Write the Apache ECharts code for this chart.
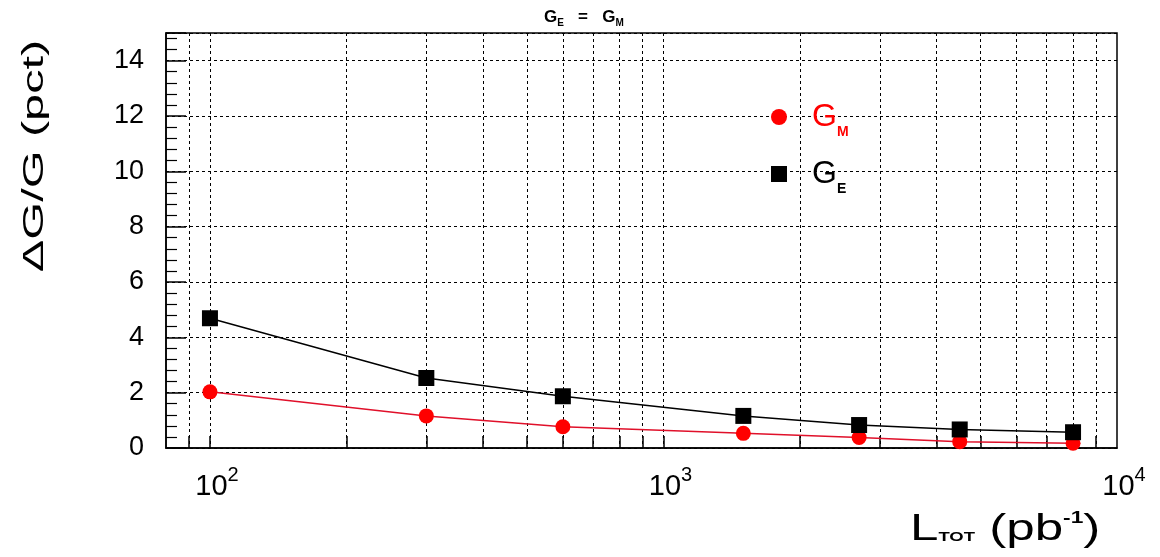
<!DOCTYPE html>
<html><head><meta charset="utf-8">
<script src="https://cdn.jsdelivr.net/npm/echarts@6/dist/echarts.min.js"></script>
<style>html,body{margin:0;padding:0;background:#fff}#c{width:1160px;height:557px}</style>
</head><body><div id="c"></div>
<script>
// ---- data ----
const luminosity = [100, 300, 600, 1500, 2700, 4500, 8000];   // L_TOT (pb^-1)
const errGE = [4.69, 2.53, 1.87, 1.16, 0.83, 0.67, 0.57];     // ΔG/G for G_E (pct)
const errGM = [2.03, 1.16, 0.77, 0.53, 0.38, 0.23, 0.17];     // ΔG/G for G_M (pct)
const xGridValues = [90, 100, 200, 300, 400, 500, 600, 700, 800, 900,
                     1000, 2000, 3000, 4000, 5000, 6000, 7000, 8000, 9000];
const xLabelValues = [100, 1000, 10000];
const xLabelExponent = {100: '2', 1000: '3', 10000: '4'};

const FONT = 'Liberation Sans';
const chart = echarts.init(document.getElementById('c'), null, {renderer: 'canvas'});
const dotted = {color: '#000', width: 1, type: [3, 3]};

const option = {
  animation: false,
  backgroundColor: '#fff',
  title: {
    text: '{a|G}{b|E}{a|   =   G}{b|M}',
    left: 539, top: 1,
    textStyle: {
      rich: {
        a: {fontSize: 17, fontWeight: 'bold', fontFamily: FONT, color: '#000', lineHeight: 22},
        b: {fontSize: 10, fontWeight: 'bold', fontFamily: FONT, color: '#000', lineHeight: 12, verticalAlign: 'bottom'}
      }
    }
  },
  grid: {left: 166, right: 43, top: 33, bottom: 109, show: true,
         borderColor: '#000', borderWidth: 1.5, backgroundColor: 'transparent'},
  xAxis: {
    type: 'log', logBase: 10, min: 80, max: 10000,
    axisLine: {show: true, lineStyle: {color: '#000', width: 1.5}},
    axisTick: {show: true, inside: true, length: 12, customValues: xGridValues,
               lineStyle: {color: '#000', width: 1.5}},
    minorTick: {show: false},
    axisLabel: {
      customValues: xLabelValues,
      margin: 17,
      formatter: v => '{b|10}{s|' + xLabelExponent[Math.round(v)] + '}',
      rich: {
        b: {fontSize: 29, fontFamily: FONT, color: '#000', lineHeight: 44, padding: [0, 0, 0, 14]},
        s: {fontSize: 20, fontFamily: FONT, color: '#000', lineHeight: 20, verticalAlign: 'top'}
      }
    },
    splitLine: {show: true, lineStyle: dotted}
  },
  yAxis: {
    type: 'value', min: 0, max: 15, interval: 2,
    axisLine: {show: true, lineStyle: {color: '#000', width: 1.5}},
    axisTick: {show: true, inside: true, length: 20, lineStyle: {color: '#000', width: 1.5}},
    minorTick: {show: true, splitNumber: 5, length: 11, lineStyle: {color: '#000', width: 1.2}},
    axisLabel: {fontSize: 27, fontFamily: FONT, color: '#000', margin: 22, showMaxLabel: false},
    splitLine: {show: true, lineStyle: dotted}
  },
  legend: {
    orient: 'vertical', left: 771, top: 101, padding: 0,
    itemWidth: 16, itemHeight: 16, itemGap: 19,
    data: [
      {name: 'M', icon: 'circle', textStyle: {color: '#ff0000'}},
      {name: 'E', icon: 'rect', textStyle: {color: '#000'}}
    ],
    formatter: n => '{g|G}{s|' + n + '}',
    textStyle: {
      rich: {
        g: {fontSize: 32, fontFamily: FONT, lineHeight: 44, padding: [0, 0, 0, 20]},
        s: {fontSize: 14, fontFamily: FONT, fontWeight: 'bold', lineHeight: 14, verticalAlign: 'bottom'}
      }
    }
  },
  graphic: [
    {type: 'text', x: 35, y: 156, rotation: Math.PI / 2, scaleX: 1.62,
     style: {text: 'ΔG/G (pct)', fontSize: 30, fontFamily: FONT, fill: '#000',
             align: 'center', verticalAlign: 'middle'}},
    {type: 'text', x: 910, y: 506, scaleX: 1.42,
     style: {
       text: '{l|L}{t|TOT}{l| (pb}{p|-1}{l|)}',
       align: 'left', verticalAlign: 'top',
       rich: {
         l: {fontSize: 36, fontFamily: FONT, fill: '#000', lineHeight: 48},
         t: {fontSize: 13, fontFamily: FONT, fontWeight: 'bold', fill: '#000', lineHeight: 14, padding: [14, 0, 0, 0]},
         p: {fontSize: 16, fontFamily: FONT, fontWeight: 'bold', fill: '#000', lineHeight: 16, padding: [0, 0, 22, 0]}
       }
     }}
  ],
  series: [
    {
      name: 'M', type: 'line',
      data: luminosity.map((x, i) => [x, errGM[i]]),
      symbol: 'circle', symbolSize: 15,
      itemStyle: {color: '#ff0000'},
      lineStyle: {color: '#e0102a', width: 1.5},
      z: 2
    },
    {
      name: 'E', type: 'line',
      data: luminosity.map((x, i) => [x, errGE[i]]),
      symbol: 'rect', symbolSize: 16,
      itemStyle: {color: '#000'},
      lineStyle: {color: '#000', width: 1.5},
      z: 3
    }
  ]
};
chart.setOption(option);
</script>
</body></html>
